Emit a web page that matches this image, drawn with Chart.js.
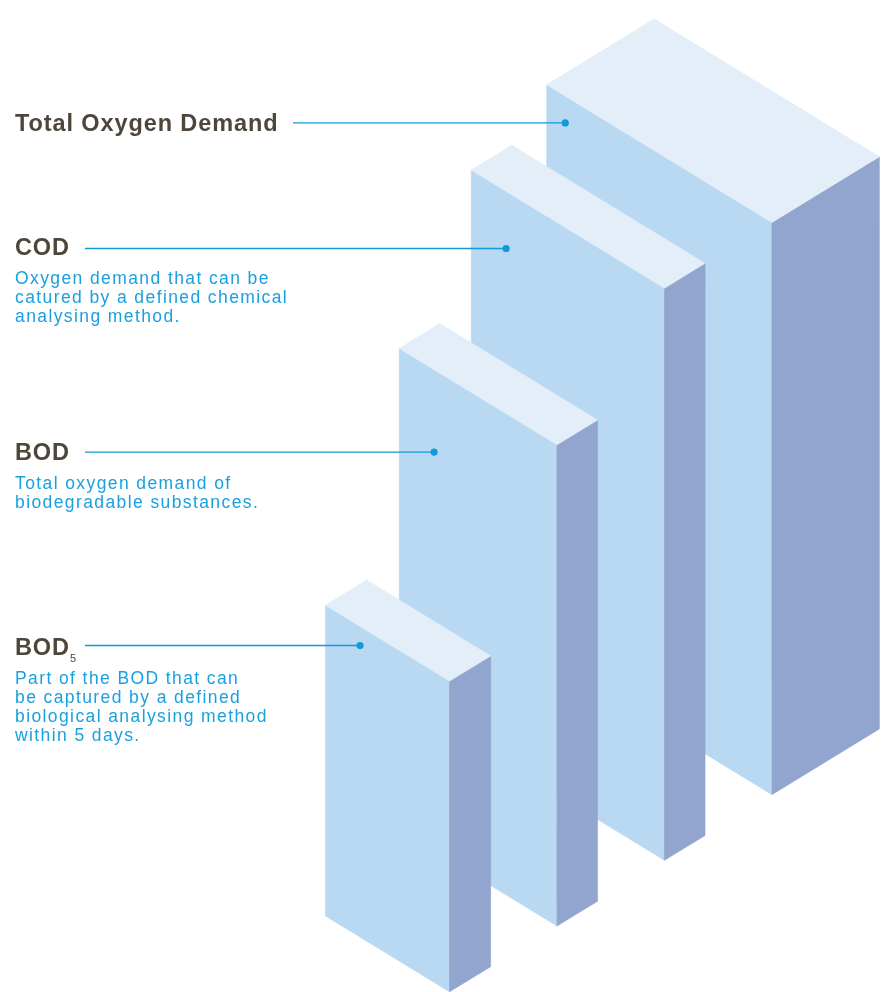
<!DOCTYPE html>
<html>
<head>
<meta charset="utf-8">
<script src="https://cdn.jsdelivr.net/npm/chart.js@4.4.1/dist/chart.umd.min.js"></script>
<style>
  html, body { margin: 0; padding: 0; background: #ffffff; }
  #wrap { position: relative; width: 885px; height: 992px; overflow: hidden; }
  #chart { position: absolute; left: 0; top: 0; }
  .lbl { position: absolute; left: 15px; font-family: "Liberation Sans", Arial, sans-serif; white-space: nowrap; }
  .ttl { font-size: 23.5px; font-weight: bold; color: #4e463b; letter-spacing: 0.9px; line-height: 23px; }
  .dsc { font-size: 17.5px; color: #1aa0df; letter-spacing: 1.4px; line-height: 19.1px; }
  .sub5 { font-size: 11px; font-weight: normal; letter-spacing: 0; position: relative; top: 7px; margin-left: 0px; }
</style>
</head>
<body>
<div id="wrap">
  <canvas id="chart" width="885" height="992"></canvas>
  <div class="lbl ttl" style="top:112.3px">Total Oxygen Demand</div>
  <div class="lbl ttl" style="top:236px">COD</div>
  <div class="lbl dsc" style="top:268.8px">Oxygen demand that can be<br>catured by a defined chemical<br>analysing method.</div>
  <div class="lbl ttl" style="top:441px">BOD</div>
  <div class="lbl dsc" style="top:473.6px">Total oxygen demand of<br>biodegradable substances.</div>
  <div class="lbl ttl" style="top:636px">BOD<span class="sub5">5</span></div>
  <div class="lbl dsc" style="top:668.6px">Part of the BOD that can<br>be captured by a defined<br>biological analysing method<br>within 5 days.</div>
</div>
<script>
// ---- data (in chart units; TOD height = 100) ----
const categories   = ['Total Oxygen Demand', 'COD', 'BOD', 'BOD5'];
const heightValues = [100, 100, 84.1, 54.3];   // box heights
const widthValues  = [39.4, 33.8, 27.6, 21.7]; // front-face widths
const depthValues  = [18.8, 7.1, 7.1, 7.2];    // box depths

// ---- layout / style (not data) ----
const ISO_SLOPE   = 0.611;  // isometric slope of the ground axes
const SLOT_DEPTH  = 18.8;   // spacing of the boxes along the depth axis
const dotInset    = [3.25, 6.1, 6.1, 6.05];    // leader dot: distance from front-left edge
const dotLevel    = [95.3, 90.0, 69.7, 50.95]; // leader dot: height on the front face
const leaderStartPx = [293, 85, 85, 85];
const colors = { top: '#e3eef9', front: '#b9d8f1', side: '#92a5cf', leader: '#0f9ad9' };

const nBoxes = categories.length;
const slotOf = i => (nBoxes - 1 - i) * SLOT_DEPTH;
// iso projection into the chart's (x, y) value space
const isoX = (p, q) => p + q;
const isoY = (p, q, z) => z - ISO_SLOPE * (p - q);

const dotPoints = categories.map((c, i) => {
  const p = -widthValues[i] + dotInset[i];
  const q = slotOf(i);
  return { x: isoX(p, q), y: isoY(p, q, dotLevel[i]) };
});
const topPoints = categories.map((c, i) => ({ x: isoX(0, slotOf(i)), y: isoY(0, slotOf(i), heightValues[i]) }));

const isoBoxes = {
  id: 'isoBoxes',
  beforeDatasetsDraw(chart) {
    const xs = chart.scales.x, ys = chart.scales.y, ctx = chart.ctx;
    const P = (p, q, z) => [xs.getPixelForValue(isoX(p, q)), ys.getPixelForValue(isoY(p, q, z))];
    const poly = (pts, color) => {
      ctx.beginPath();
      pts.forEach(([x, y], k) => k ? ctx.lineTo(x, y) : ctx.moveTo(x, y));
      ctx.closePath();
      ctx.fillStyle = color; ctx.strokeStyle = color; ctx.lineWidth = 0.6;
      ctx.fill(); ctx.stroke();
    };
    ctx.save();
    for (let i = 0; i < nBoxes; i++) {
      const W = widthValues[i], D = depthValues[i], H = heightValues[i], q0 = slotOf(i);
      poly([P(-W, q0, 0), P(0, q0, 0), P(0, q0, H), P(-W, q0, H)], colors.front);
      poly([P(0, q0, 0), P(0, q0 + D, 0), P(0, q0 + D, H), P(0, q0, H)], colors.side);
      poly([P(-W, q0, H), P(0, q0, H), P(0, q0 + D, H), P(-W, q0 + D, H)], colors.top);
    }
    // leader lines from the labels to the dots
    ctx.strokeStyle = colors.leader; ctx.lineWidth = 1.4;
    dotPoints.forEach((d, i) => {
      const y = ys.getPixelForValue(d.y);
      ctx.beginPath();
      ctx.moveTo(leaderStartPx[i], y);
      ctx.lineTo(xs.getPixelForValue(d.x), y);
      ctx.stroke();
    });
    ctx.restore();
  }
};

new Chart(document.getElementById('chart'), {
  type: 'scatter',
  data: {
    datasets: [
      { label: 'box tops', data: topPoints, pointRadius: 0, showLine: false },
      { label: 'leader dots', data: dotPoints, pointRadius: 3.6, pointHoverRadius: 3.6,
        backgroundColor: colors.leader, borderWidth: 0 }
    ]
  },
  options: {
    responsive: false,
    animation: false,
    devicePixelRatio: 1,
    events: [],
    layout: { padding: 0 },
    plugins: { legend: { display: false }, tooltip: { enabled: false }, title: { display: false } },
    scales: {
      x: { type: 'linear', min: -78, max: 75.55, display: false },
      y: { type: 'linear', min: 0.6, max: 172.7, display: false }
    }
  },
  plugins: [isoBoxes]
});
</script>
</body>
</html>
